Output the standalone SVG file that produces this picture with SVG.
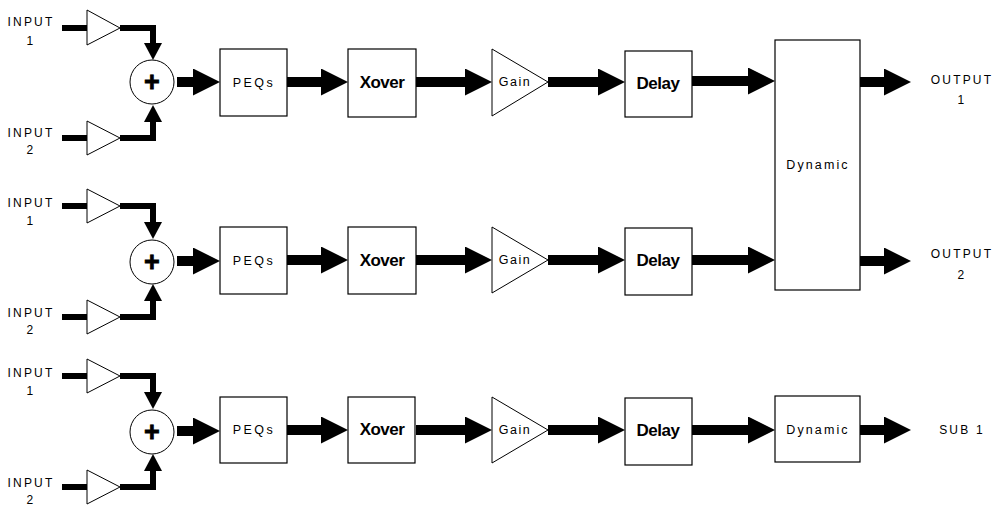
<svg xmlns="http://www.w3.org/2000/svg" width="994" height="506" viewBox="0 0 994 506">
<defs>
<style>
.box{fill:#fff;stroke:#000;stroke-width:1.2}
.tri{fill:#fff;stroke:#000;stroke-width:1}
.sum{fill:#fff;stroke:#000;stroke-width:1}
.lbl{font-family:"Liberation Sans",Arial,sans-serif;font-size:12.5px;fill:#000;text-anchor:middle}
.io{font-family:"Liberation Sans",Arial,sans-serif;font-size:12px;letter-spacing:2.2px;fill:#000;text-anchor:middle}
.bold{font-family:"Liberation Sans",Arial,sans-serif;font-size:17px;font-weight:bold;letter-spacing:-0.5px;fill:#000;text-anchor:middle}
.plus{font-family:"Liberation Sans",Arial,sans-serif;font-size:27px;font-weight:bold;fill:#000;stroke:#000;stroke-width:0.8;text-anchor:middle}
.big{stroke:#000;stroke-width:10;fill:none;marker-end:url(#bigHead)}
.wire{stroke:#000;stroke-width:6;fill:none}
.wireA{stroke:#000;stroke-width:6;fill:none;marker-end:url(#smallHead)}
</style>
<marker id="bigHead" markerUnits="userSpaceOnUse" markerWidth="27" markerHeight="27" refX="0" refY="13.5" orient="auto" viewBox="0 0 27 27">
<path d="M0,0 L27,13.5 L0,27 Z" fill="#000"/>
</marker>
<marker id="smallHead" markerUnits="userSpaceOnUse" markerWidth="17" markerHeight="18" refX="0" refY="9" orient="auto" viewBox="0 0 17 18">
<path d="M0,0 L17,9 L0,18 Z" fill="#000"/>
</marker>
</defs>
<rect width="994" height="506" fill="#fff"/>

<g id="connectors">
<!-- row 1 -->
<line class="wire" x1="62" y1="28" x2="88" y2="28"/>
<path class="wireA" d="M120,28 H153 V43"/>
<line class="wire" x1="62" y1="138" x2="88" y2="138"/>
<path class="wireA" d="M120,138 H153 V122"/>
<line class="big" x1="177" y1="82" x2="193" y2="82"/>
<line class="big" x1="287" y1="82" x2="321" y2="82"/>
<line class="big" x1="416" y1="82" x2="465" y2="82"/>
<line class="big" x1="548" y1="82" x2="598" y2="82"/>
<line class="big" x1="692" y1="81" x2="748" y2="81"/>
<line class="big" x1="860" y1="82" x2="884" y2="82"/>
<!-- row 2 -->
<line class="wire" x1="62" y1="206" x2="88" y2="206"/>
<path class="wireA" d="M120,206 H153 V222"/>
<line class="wire" x1="62" y1="317" x2="88" y2="317"/>
<path class="wireA" d="M120,317 H153 V301"/>
<line class="big" x1="177" y1="261" x2="193" y2="261"/>
<line class="big" x1="287" y1="260" x2="321" y2="260"/>
<line class="big" x1="416" y1="260" x2="465" y2="260"/>
<line class="big" x1="548" y1="260" x2="598" y2="260"/>
<line class="big" x1="692" y1="260" x2="748" y2="260"/>
<line class="big" x1="860" y1="261" x2="884" y2="261"/>
<!-- row 3 -->
<line class="wire" x1="62" y1="376" x2="88" y2="376"/>
<path class="wireA" d="M120,376 H153 V392"/>
<line class="wire" x1="62" y1="487" x2="88" y2="487"/>
<path class="wireA" d="M120,487 H153 V471"/>
<line class="big" x1="177" y1="431" x2="193" y2="431"/>
<line class="big" x1="287" y1="430" x2="321" y2="430"/>
<line class="big" x1="416" y1="430" x2="465" y2="430"/>
<line class="big" x1="548" y1="430" x2="598" y2="430"/>
<line class="big" x1="692" y1="430" x2="748" y2="430"/>
<line class="big" x1="860" y1="430" x2="884" y2="430"/>
</g>

<!-- row 1 nodes -->
<g id="in1a"><text class="io" x="31" y="26">INPUT</text><text class="io" x="31" y="45">1</text></g>
<g id="amp1a"><polygon class="tri" points="87,10 87,45 120,28"/></g>
<g id="in2a"><text class="io" x="31" y="137">INPUT</text><text class="io" x="31" y="154">2</text></g>
<g id="amp2a"><polygon class="tri" points="87,121 87,155 120,138"/></g>
<g id="sum1"><circle class="sum" cx="152" cy="82" r="22"/><text class="plus" x="152" y="91">+</text></g>
<g id="peq1"><rect class="box" x="220" y="49" width="67" height="67"/><text class="lbl" x="254" y="87" style="letter-spacing:2.5px">PEQs</text></g>
<g id="xover1"><rect class="box" x="348" y="49" width="68" height="68"/><text class="bold" x="382" y="88">Xover</text></g>
<g id="gain1"><polygon class="tri" points="492,49 492,116 548,82"/><text class="lbl" x="515" y="86" style="letter-spacing:1.5px">Gain</text></g>
<g id="delay1"><rect class="box" x="625" y="51" width="67" height="66"/><text class="bold" x="658" y="89">Delay</text></g>
<g id="dyn12"><rect class="box" x="775" y="40" width="85" height="250"/><text class="lbl" x="818" y="169" style="letter-spacing:2.1px">Dynamic</text></g>
<g id="out1"><text class="io" x="962" y="84">OUTPUT</text><text class="io" x="962" y="104">1</text></g>

<!-- row 2 nodes -->
<g id="in1b"><text class="io" x="31" y="207">INPUT</text><text class="io" x="31" y="225">1</text></g>
<g id="amp1b"><polygon class="tri" points="87,189 87,223 120,206"/></g>
<g id="in2b"><text class="io" x="31" y="317">INPUT</text><text class="io" x="31" y="334">2</text></g>
<g id="amp2b"><polygon class="tri" points="87,300 87,334 120,317"/></g>
<g id="sum2"><circle class="sum" cx="152" cy="262" r="22"/><text class="plus" x="152" y="271">+</text></g>
<g id="peq2"><rect class="box" x="220" y="227" width="67" height="67"/><text class="lbl" x="254" y="265" style="letter-spacing:2.5px">PEQs</text></g>
<g id="xover2"><rect class="box" x="348" y="227" width="68" height="67"/><text class="bold" x="382" y="266">Xover</text></g>
<g id="gain2"><polygon class="tri" points="492,227 492,293 548,260"/><text class="lbl" x="515" y="264" style="letter-spacing:1.5px">Gain</text></g>
<g id="delay2"><rect class="box" x="625" y="228" width="67" height="67"/><text class="bold" x="658" y="266">Delay</text></g>
<g id="out2"><text class="io" x="962" y="258">OUTPUT</text><text class="io" x="962" y="279">2</text></g>

<!-- row 3 nodes -->
<g id="in1c"><text class="io" x="31" y="377">INPUT</text><text class="io" x="31" y="395">1</text></g>
<g id="amp1c"><polygon class="tri" points="87,359 87,393 120,376"/></g>
<g id="in2c"><text class="io" x="31" y="487">INPUT</text><text class="io" x="31" y="504">2</text></g>
<g id="amp2c"><polygon class="tri" points="87,470 87,504 120,487"/></g>
<g id="sum3"><circle class="sum" cx="152" cy="432" r="22"/><text class="plus" x="152" y="441">+</text></g>
<g id="peq3"><rect class="box" x="220" y="397" width="67" height="66"/><text class="lbl" x="254" y="434" style="letter-spacing:2.5px">PEQs</text></g>
<g id="xover3"><rect class="box" x="348" y="397" width="67" height="66"/><text class="bold" x="382" y="435">Xover</text></g>
<g id="gain3"><polygon class="tri" points="492,397 492,463 548,430"/><text class="lbl" x="515" y="434" style="letter-spacing:1.5px">Gain</text></g>
<g id="delay3"><rect class="box" x="625" y="398" width="67" height="67"/><text class="bold" x="658" y="436">Delay</text></g>
<g id="dyn3"><rect class="box" x="775" y="396" width="85" height="66"/><text class="lbl" x="818" y="434" style="letter-spacing:2.1px">Dynamic</text></g>
<g id="sub1"><text class="io" x="962" y="434">SUB 1</text></g>
</svg>
